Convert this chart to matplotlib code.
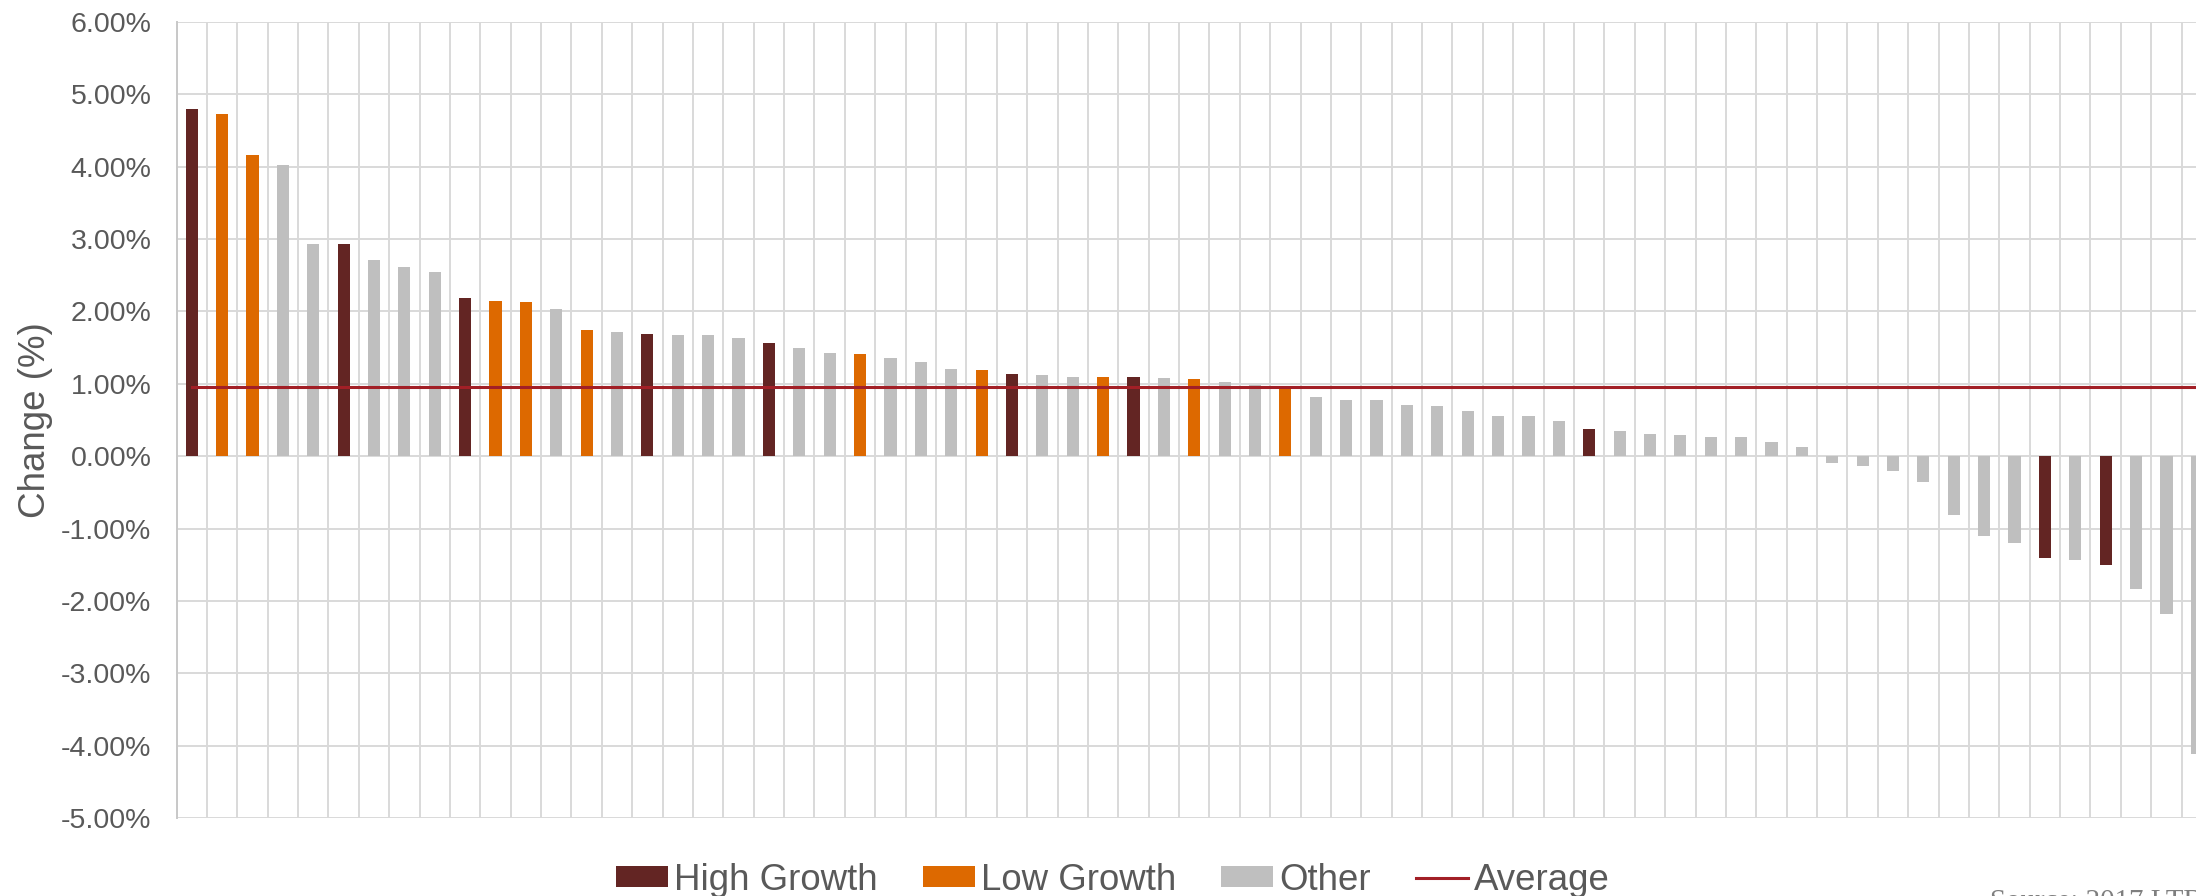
import matplotlib
matplotlib.use('Agg')
import matplotlib.pyplot as plt
import numpy as np

plt.rcParams['font.family'] = ['Liberation Sans', 'DejaVu Sans']

# valores (variação em %), ordenados como no original
valores = [4.80, 4.73, 4.16, 4.02, 2.93, 2.93, 2.71, 2.61, 2.55, 2.19,
           2.14, 2.13, 2.04, 1.75, 1.71, 1.69, 1.68, 1.67, 1.64, 1.56,
           1.50, 1.43, 1.41, 1.36, 1.30, 1.20, 1.19, 1.13, 1.12, 1.10,
           1.09, 1.09, 1.08, 1.06, 1.02, 0.99, 0.94, 0.82, 0.77, 0.77,
           0.705, 0.69, 0.62, 0.55, 0.55, 0.48, 0.37, 0.35, 0.30, 0.29,
           0.27, 0.26, 0.19, 0.12, -0.10, -0.14, -0.20, -0.35, -0.81, -1.10,
           -1.20, -1.41, -1.44, -1.50, -1.83, -2.18, -4.12]

# grupo de cada barra: H = High Growth, L = Low Growth, O = Other
grupos = ['H', 'L', 'L', 'O', 'O', 'H', 'O', 'O', 'O', 'H',
          'L', 'L', 'O', 'L', 'O', 'H', 'O', 'O', 'O', 'H',
          'O', 'O', 'L', 'O', 'O', 'O', 'L', 'H', 'O', 'O',
          'L', 'H', 'O', 'L', 'O', 'O', 'L', 'O', 'O', 'O',
          'O', 'O', 'O', 'O', 'O', 'O', 'H', 'O', 'O', 'O',
          'O', 'O', 'O', 'O', 'O', 'O', 'O', 'O', 'O', 'O',
          'O', 'H', 'O', 'H', 'O', 'O', 'O']

media = 0.95
yticks = [6, 5, 4, 3, 2, 1, 0, -1, -2, -3, -4, -5]

nomes = {'H': 'High Growth', 'L': 'Low Growth', 'O': 'Other'}
cores = {'H': '#632523', 'L': '#DD6900', 'O': '#BFBFBF'}
cinza_txt = '#595959'
cinza_grade = '#D9D9D9'

fig = plt.figure(figsize=(21.96, 8.96), dpi=100)
# o gráfico original está cortado à direita, por isso o eixo passa da figura
ax = fig.add_axes([176.5 / 2196, 78 / 896, 2035.5 / 2196, 796 / 896])

x = np.arange(len(valores))
v = np.array(valores)
g = np.array(grupos)

handles = {}
for chave in ['H', 'L', 'O']:
    m = g == chave
    handles[chave] = ax.bar(x[m], v[m], width=0.4, color=cores[chave],
                            label=nomes[chave], zorder=3)

linha, = ax.plot([x[0], x[-1]], [media, media], color='#A21F26',
                 linewidth=2.2, label='Average', zorder=4)

# grade: verticais entre categorias, horizontais a cada 1%
for xv in np.arange(len(valores) + 1) - 0.5:
    ax.axvline(xv, color=cinza_grade, linewidth=1.4, zorder=1)
for yv in yticks:
    ax.axhline(yv, color=cinza_grade, linewidth=1.4, zorder=1)

ax.set_xlim(-0.5, len(valores) - 0.5)
ax.set_ylim(-5, 6)
ax.set_xticks([])
ax.set_yticks(yticks)
ax.set_yticklabels([f'{t:.2f}%' for t in yticks])
ax.tick_params(axis='y', length=0, pad=18, labelsize=20.5, labelcolor=cinza_txt)

for s in ['top', 'right', 'bottom']:
    ax.spines[s].set_visible(False)
ax.spines['left'].set_color('#C8C8C8')
ax.spines['left'].set_linewidth(1.4)

ax.set_ylabel('Change (%)', fontsize=26.5, color=cinza_txt)
ax.yaxis.set_label_coords(-0.0607, 0.5)

fig.legend([handles['H'], handles['L'], handles['O'], linha],
           ['High Growth', 'Low Growth', 'Other', 'Average'],
           loc='center', bbox_to_anchor=(1113 / 2196, 16 / 896), ncol=4,
           frameon=False, fontsize=26.4, labelcolor=cinza_txt,
           handlelength=1.42, handleheight=0.5, handletextpad=0.16,
           columnspacing=1.23, borderaxespad=0)

# nota de fonte, cortada na borda inferior como no original
fig.text(1990 / 2196, -13 / 896, 'Source: 2017 LTBR', ha='left', va='baseline',
         fontsize=20.8, color='#7F7F7F', family=['Liberation Serif', 'DejaVu Serif'])

plt.savefig('out.png', dpi=100, facecolor='white')
